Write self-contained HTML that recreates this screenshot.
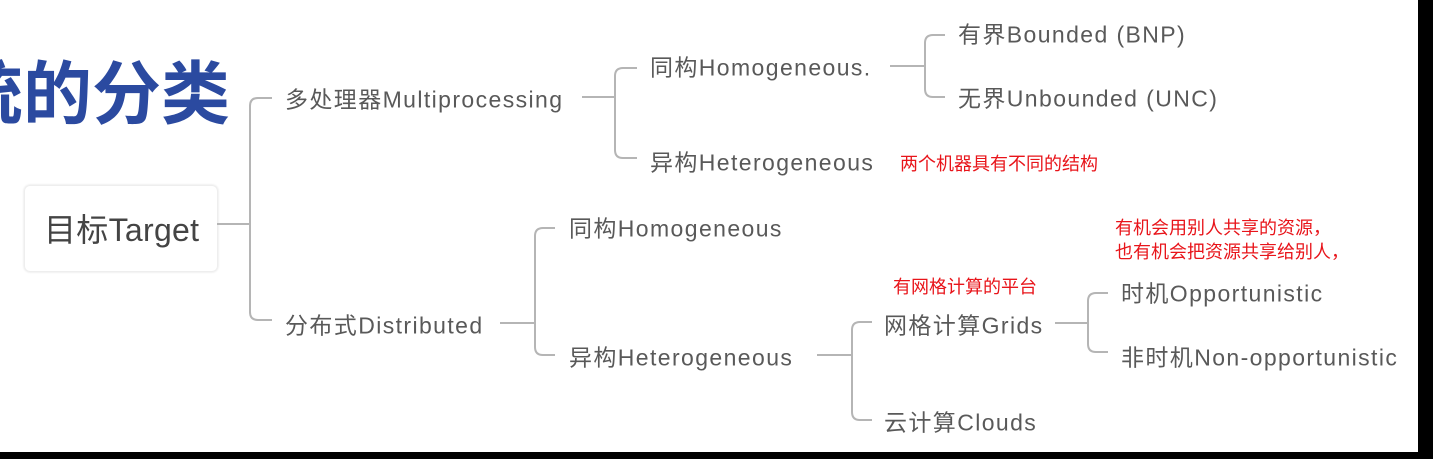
<!DOCTYPE html>
<html><head><meta charset="utf-8"><style>
body{margin:0;width:1433px;height:459px;overflow:hidden;background:#fff;position:relative;font-family:"Liberation Sans","Noto Sans CJK SC",sans-serif}
.t{position:absolute;color:#595959;font-size:23px;letter-spacing:1.4px;line-height:1;white-space:nowrap;transform:translateY(-50%)}
.r{position:absolute;color:#e8141a;font-size:18px;line-height:1;white-space:nowrap;transform:translateY(-50%)}
</style></head><body>
<div style="position:absolute;left:-46px;top:54px;font-size:69px;font-weight:bold;color:#2b4aa0;line-height:1;font-family:'Noto Sans CJK SC',sans-serif">统的分类</div>
<div style="position:absolute;left:24px;top:185px;width:192px;height:85px;border:1px solid #eee;border-radius:6px;box-shadow:0 0 2px #ddd"></div>
<svg style="position:absolute;left:0;top:0" width="1433" height="459" fill="none" stroke="#b5b5b5" stroke-width="2">
<path d="M217 224H250M272 98H258Q250 98 250 106V312Q250 320 258 320H272"/>
<path d="M582 97H615M637 68H623Q615 68 615 76V150Q615 158 623 158H637"/>
<path d="M890 66H925M945 35H933Q925 35 925 43V89Q925 97 933 97H945"/>
<path d="M500 323H535M555 228H543Q535 228 535 236V347Q535 355 543 355H555"/>
<path d="M817 355H852M872 322H860Q852 322 852 330V412Q852 420 860 420H872"/>
<path d="M1055 323H1088M1108 293H1096Q1088 293 1088 301V344Q1088 352 1096 352H1108"/>
</svg>
<div class="t" style="left:44px;top:230px;font-size:32px;letter-spacing:0.3px;color:#444">目标Target</div>
<div class="t" style="left:285px;top:100px">多处理器Multiprocessing</div>
<div class="t" style="left:650px;top:68px">同构Homogeneous.</div>
<div class="t" style="left:650px;top:163px">异构Heterogeneous</div>
<div class="t" style="left:958px;top:35px">有界Bounded (BNP)</div>
<div class="t" style="left:958px;top:99px">无界Unbounded (UNC)</div>
<div class="t" style="left:285px;top:326px">分布式Distributed</div>
<div class="t" style="left:569px;top:229px">同构Homogeneous</div>
<div class="t" style="left:569px;top:358px">异构Heterogeneous</div>
<div class="t" style="left:884px;top:326px">网格计算Grids</div>
<div class="t" style="left:884px;top:423px">云计算Clouds</div>
<div class="t" style="left:1121px;top:294px">时机Opportunistic</div>
<div class="t" style="left:1121px;top:358px">非时机Non-opportunistic</div>
<div class="r" style="left:900px;top:164px">两个机器具有不同的结构</div>
<div class="r" style="left:893px;top:287px">有网格计算的平台</div>
<div class="r" style="left:1115px;top:228px">有机会用别人共享的资源，</div>
<div class="r" style="left:1115px;top:252px">也有机会把资源共享给别人，</div>
<div style="position:absolute;left:1418px;top:0;width:15px;height:459px;background:#000"></div>
<div style="position:absolute;left:0;top:452px;width:1433px;height:7px;background:#000"></div>
</body></html>
